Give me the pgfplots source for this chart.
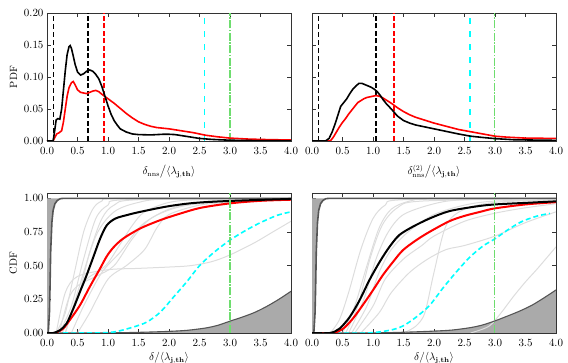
\documentclass[border=0pt]{standalone}
\usepackage{pgfplots}
\pgfplotsset{compat=1.18}
\usepackage{amsmath}
\definecolor{lgreen}{HTML}{6EDD6E}
\definecolor{cyn}{rgb}{0,1,1}
\definecolor{rd}{rgb}{1,0,0}
\definecolor{bndgray}{HTML}{555555}
\definecolor{fillgray}{HTML}{AAAAAA}
\definecolor{glight}{HTML}{DDDDDD}
\newcommand\fs{\fontsize{10.5}{12}\selectfont}

\pgfplotsset{
  panel/.style={
    scale only axis, width=244pt,
    xmin=0, xmax=4, xtick={0,0.5,...,4},
    tick align=inside, major tick length=4pt,
    axis line style={line width=0.9pt, black!80},
    tick style={black!80, line width=0.6pt},
    tick label style={font=\fs},
    label style={font=\fs},
    xticklabel shift=3pt,
    xticklabel style={/pgf/number format/.cd, fixed, fixed zerofill, precision=1},
    yticklabel style={/pgf/number format/.cd, fixed, fixed zerofill, precision=2},
  },
  pdf/.style={panel, height=128pt, ymin=0, ymax=0.2, ytick={0,0.05,...,0.2},
    every axis x label/.append style={yshift=-4pt}},
  cdf/.style={panel, height=140pt, ymin=0, ymax=1.04, ytick={0,0.25,0.5,0.75,1},
    every axis x label/.append style={yshift=1pt}},
  vthin/.style={black, line width=0.7pt, dash pattern=on 5pt off 3pt},
  vdash/.style={line width=1.8pt, dash pattern=on 5pt off 2.5pt},
  vcyan/.style={cyn, line width=1.4pt, dash pattern=on 6pt off 7pt},
  vgreen/.style={lgreen, line width=1.8pt, dash pattern=on 8pt off 1.5pt on 1.5pt off 1.5pt},
  gl/.style={glight, line width=1.0pt, smooth, tension=0.5},
}

\begin{document}
\begin{tikzpicture}
\path[use as bounding box] (0,0) rectangle (568pt,363pt);

% ---------------- top left: PDF of delta_nns
\begin{axis}[pdf, at={(47pt,222pt)}, anchor=south west,
  ylabel={PDF},
  xlabel={$\delta_{\mathrm{nns}}\big/\langle\lambda_{\mathbf{j,th}}\rangle$}]
\addplot[vthin] coordinates {(0.1,0) (0.1,0.2)};
\addplot[vdash, black] coordinates {(0.67,0) (0.67,0.2)};
\addplot[vdash, rd] coordinates {(0.94,0) (0.94,0.2)};
\addplot[vcyan] coordinates {(2.58,0) (2.58,0.2)};
\addplot[vgreen] coordinates {(3.0,0) (3.0,0.2)};
\addplot[rd, line width=1.6pt] coordinates {
(0.00,0) (0.10,0) (0.13,0.006) (0.16,0.011) (0.20,0.013) (0.24,0.016) (0.27,0.030)
(0.30,0.050) (0.33,0.070) (0.36,0.083) (0.40,0.091) (0.43,0.093) (0.46,0.088)
(0.50,0.080) (0.55,0.076) (0.60,0.075) (0.65,0.074) (0.70,0.076) (0.75,0.078)
(0.80,0.079) (0.85,0.077) (0.90,0.073) (1.00,0.066) (1.10,0.059) (1.20,0.051)
(1.30,0.043) (1.40,0.036) (1.50,0.030) (1.60,0.026) (1.70,0.023) (1.80,0.021)
(2.00,0.019) (2.20,0.016) (2.40,0.013) (2.60,0.009) (2.80,0.0065) (3.00,0.0045)
(3.30,0.003) (3.60,0.0022) (4.00,0.0015)};
\addplot[black, line width=1.6pt] coordinates {
(0.00,0) (0.10,0) (0.12,0.012) (0.15,0.033) (0.18,0.035) (0.21,0.034) (0.24,0.050)
(0.27,0.080) (0.30,0.110) (0.33,0.135) (0.36,0.147) (0.38,0.149) (0.40,0.145)
(0.43,0.133) (0.46,0.120) (0.50,0.108) (0.55,0.103) (0.60,0.105) (0.65,0.109)
(0.70,0.111) (0.75,0.109) (0.80,0.104) (0.85,0.097) (0.90,0.085) (0.95,0.070)
(1.00,0.055) (1.05,0.042) (1.10,0.032) (1.15,0.025) (1.20,0.019) (1.30,0.014)
(1.40,0.011) (1.50,0.010) (1.70,0.0095) (1.90,0.0105) (2.00,0.0105) (2.10,0.010)
(2.20,0.0085) (2.30,0.007) (2.40,0.0055) (2.50,0.004) (2.70,0.0025) (3.00,0.0012)
(3.50,0.0005) (4.00,0.0002)};
\end{axis}

% ---------------- top right: PDF of delta_nns^(2)
\begin{axis}[pdf, at={(312pt,222pt)}, anchor=south west,
  yticklabels={},
  xlabel={$\delta^{(2)}_{\mathrm{nns}}\big/\langle\lambda_{\mathbf{j,th}}\rangle$}]
\addplot[vthin] coordinates {(0.1,0) (0.1,0.2)};
\addplot[vdash, black] coordinates {(1.05,0) (1.05,0.2)};
\addplot[vdash, rd] coordinates {(1.34,0) (1.34,0.2)};
\addplot[vcyan] coordinates {(2.59,0) (2.59,0.2)};
\addplot[vgreen, line width=1.0pt] coordinates {(3.0,0) (3.0,0.2)};
\addplot[rd, line width=1.6pt] coordinates {
(0.00,0) (0.30,0) (0.35,0.006) (0.40,0.014) (0.45,0.022) (0.50,0.029) (0.55,0.035)
(0.60,0.042) (0.65,0.048) (0.70,0.054) (0.75,0.060) (0.80,0.063) (0.85,0.066)
(0.90,0.068) (0.95,0.069) (1.00,0.070) (1.05,0.071) (1.10,0.070) (1.15,0.068)
(1.20,0.065) (1.30,0.059) (1.40,0.052) (1.50,0.046) (1.60,0.041) (1.70,0.037)
(1.80,0.034) (1.90,0.031) (2.00,0.028) (2.20,0.023) (2.40,0.018) (2.60,0.0145)
(2.80,0.011) (3.00,0.0075) (3.20,0.006) (3.50,0.0045) (4.00,0.004)};
\addplot[black, line width=1.6pt] coordinates {
(0.00,0) (0.22,0) (0.28,0.004) (0.33,0.014) (0.38,0.027) (0.43,0.042) (0.47,0.054)
(0.52,0.060) (0.57,0.066) (0.62,0.074) (0.67,0.081) (0.72,0.086) (0.77,0.090)
(0.82,0.090) (0.87,0.088) (0.92,0.086) (0.97,0.084) (1.02,0.081) (1.07,0.077)
(1.12,0.071) (1.17,0.064) (1.22,0.058) (1.30,0.050) (1.40,0.039) (1.50,0.032)
(1.60,0.028) (1.70,0.025) (1.80,0.023) (1.90,0.021) (2.00,0.019) (2.20,0.015)
(2.40,0.011) (2.60,0.0075) (2.80,0.0055) (3.00,0.0037) (3.30,0.002) (3.60,0.0015)
(4.00,0.001)};
\end{axis}

% ---------------- bottom left: CDF
\begin{axis}[cdf, at={(47pt,30pt)}, anchor=south west,
  ylabel={CDF},
  xlabel={$\delta/\langle\lambda_{\mathbf{j,th}}\rangle$}]
\addplot[fill=fillgray, draw=none] coordinates {
(0,0) (0.02,0) (0.04,0.15) (0.05,0.35) (0.06,0.6) (0.08,0.82) (0.10,0.91)
(0.13,0.96) (0.17,0.985) (0.22,0.998) (0.27,1) (0,1)};
\addplot[fill=fillgray, draw=none] coordinates {
(0.8,0) (1.2,0.002) (1.6,0.006) (2.0,0.012) (2.3,0.02) (2.6,0.037) (2.8,0.057)
(3.0,0.088) (3.2,0.118) (3.4,0.152) (3.6,0.197) (3.8,0.25) (4.0,0.31) (4.0,0)};
\addplot[gl] coordinates {(0.15,0) (0.3,0.15) (0.45,0.45) (0.6,0.75) (0.75,0.92) (0.9,0.98) (1.2,1.0) (4,1)};
\addplot[gl] coordinates {(0.2,0) (0.4,0.2) (0.6,0.55) (0.8,0.85) (1.0,0.95) (1.3,0.99) (4,1)};
\addplot[gl] coordinates {(0.25,0) (0.5,0.25) (0.7,0.6) (0.9,0.85) (1.1,0.95) (1.5,0.99) (4,1)};
\addplot[gl] coordinates {(0.3,0) (0.5,0.3) (0.8,0.72) (1.1,0.9) (1.5,0.97) (2,0.995) (4,1)};
\addplot[gl] coordinates {(0.15,0) (0.3,0.3) (0.5,0.42) (1.0,0.47) (1.5,0.48) (2.0,0.49) (2.35,0.50) (2.7,0.53) (3.0,0.58) (3.4,0.67) (3.7,0.75) (4.0,0.83)};
\addplot[gl] coordinates {(0.3,0) (0.5,0.28) (0.65,0.4) (0.85,0.46) (1.0,0.52) (1.2,0.66) (1.4,0.8) (1.6,0.9) (2.0,0.97) (2.5,0.99) (4,1)};
\addplot[gl] coordinates {(0.4,0) (0.6,0.2) (0.9,0.45) (1.2,0.6) (1.4,0.72) (1.6,0.82) (2.0,0.92) (2.5,0.97) (3,0.99) (4,1)};
\addplot[gl] coordinates {(0.5,0) (0.7,0.15) (1.0,0.4) (1.3,0.5) (1.6,0.62) (1.8,0.78) (2.0,0.88) (2.5,0.95) (3.0,0.97) (4,0.99)};
\addplot[gl] coordinates {(0.2,0) (0.35,0.25) (0.5,0.35) (0.8,0.42) (1.1,0.5) (1.4,0.7) (1.7,0.85) (2.2,0.94) (3,0.98) (4,1)};
\addplot[bndgray, line width=1.6pt] coordinates {
(0.02,0) (0.04,0.15) (0.05,0.35) (0.06,0.6) (0.08,0.82) (0.10,0.91)
(0.13,0.96) (0.17,0.985) (0.22,0.998) (0.27,1) (4,1)};
\addplot[bndgray, line width=1.1pt, smooth] coordinates {
(0,0) (0.8,0) (1.2,0.002) (1.6,0.006) (2.0,0.012) (2.3,0.02) (2.6,0.037) (2.8,0.057)
(3.0,0.088) (3.2,0.118) (3.4,0.152) (3.6,0.197) (3.8,0.25) (4.0,0.31)};
\addplot[cyn, line width=1.6pt, dash pattern=on 5pt off 3pt, smooth] coordinates {
(0,0) (0.7,0) (1.09,0.007) (1.42,0.045) (1.64,0.082) (1.86,0.156) (2.08,0.27)
(2.3,0.385) (2.5,0.50) (2.74,0.60) (3.0,0.69) (3.25,0.76) (3.5,0.82) (3.78,0.875) (4.0,0.9)};
\addplot[rd, line width=2pt, smooth] coordinates {
(0,0) (0.13,0) (0.26,0.03) (0.37,0.094) (0.54,0.206) (0.70,0.342) (0.87,0.479)
(0.98,0.570) (1.09,0.636) (1.25,0.702) (1.53,0.777) (1.86,0.839) (2.19,0.888)
(2.52,0.93) (3.0,0.963) (3.5,0.982) (4.0,0.99)};
\addplot[black, line width=2pt, smooth] coordinates {
(0,0) (0.1,0) (0.21,0.02) (0.32,0.07) (0.43,0.18) (0.54,0.305) (0.65,0.43)
(0.76,0.565) (0.87,0.70) (0.98,0.80) (1.12,0.85) (1.31,0.876) (1.53,0.90)
(1.97,0.94) (2.41,0.966) (3.0,0.981) (4.0,0.996)};
\addplot[vgreen] coordinates {(3.0,0) (3.0,1.04)};
\end{axis}

% ---------------- bottom right: CDF
\begin{axis}[cdf, at={(312pt,30pt)}, anchor=south west,
  yticklabels={},
  xlabel={$\delta/\langle\lambda_{\mathbf{j,th}}\rangle$}]
\addplot[fill=fillgray, draw=none] coordinates {
(0,0) (0.03,0) (0.05,0.15) (0.06,0.35) (0.07,0.6) (0.09,0.82) (0.11,0.91)
(0.14,0.96) (0.18,0.985) (0.23,0.998) (0.28,1) (0,1)};
\addplot[fill=fillgray, draw=none] coordinates {
(0.8,0) (1.2,0.002) (1.6,0.007) (2.0,0.014) (2.3,0.022) (2.6,0.04) (2.8,0.06)
(3.0,0.09) (3.2,0.125) (3.4,0.162) (3.6,0.205) (3.8,0.26) (4.0,0.32) (4.0,0)};
\addplot[gl] coordinates {(0.3,0) (0.45,0.1) (0.6,0.3) (0.8,0.62) (1.0,0.85) (1.2,0.95) (1.5,0.99) (4,1)};
\addplot[gl] coordinates {(0.5,0) (0.7,0.2) (0.9,0.5) (1.1,0.78) (1.3,0.92) (1.6,0.98) (2,1) (4,1)};
\addplot[gl] coordinates {(0.55,0) (0.75,0.2) (0.95,0.55) (1.15,0.8) (1.4,0.93) (1.8,0.98) (4,1)};
\addplot[gl] coordinates {(0.6,0) (0.85,0.25) (1.05,0.55) (1.25,0.75) (1.5,0.88) (2.0,0.96) (2.5,0.99) (4,1)};
\addplot[gl] coordinates {(0.65,0) (0.9,0.2) (1.1,0.45) (1.3,0.62) (1.6,0.76) (2.0,0.88) (2.5,0.95) (3,0.98) (4,0.99)};
\addplot[gl] coordinates {(0.7,0) (1.0,0.2) (1.2,0.4) (1.5,0.55) (1.8,0.65) (2.0,0.72) (2.5,0.83) (3,0.89) (3.5,0.93) (4,0.96)};
\addplot[gl] coordinates {(0.8,0) (1.1,0.15) (1.3,0.3) (1.6,0.45) (1.9,0.55) (2.2,0.62) (2.5,0.65) (3,0.72) (3.5,0.82) (4,0.9)};
\addplot[gl] coordinates {(1.5,0) (1.7,0.05) (1.85,0.15) (2.0,0.45) (2.2,0.8) (2.5,0.92) (3,0.97) (4,0.99)};
\addplot[gl] coordinates {(2.6,0) (2.9,0.05) (3.1,0.15) (3.3,0.27) (3.5,0.38) (3.7,0.48) (4.0,0.64)};
\addplot[bndgray, line width=1.6pt] coordinates {
(0.03,0) (0.05,0.15) (0.06,0.35) (0.07,0.6) (0.09,0.82) (0.11,0.91)
(0.14,0.96) (0.18,0.985) (0.23,0.998) (0.28,1) (4,1)};
\addplot[bndgray, line width=1.1pt, smooth] coordinates {
(0,0) (0.8,0) (1.2,0.002) (1.6,0.007) (2.0,0.014) (2.3,0.022) (2.6,0.04) (2.8,0.06)
(3.0,0.09) (3.2,0.125) (3.4,0.162) (3.6,0.205) (3.8,0.26) (4.0,0.32)};
\addplot[cyn, line width=1.6pt, dash pattern=on 5pt off 3pt, smooth] coordinates {
(0,0) (0.89,0) (1.27,0.02) (1.49,0.052) (1.71,0.119) (1.93,0.206) (2.14,0.33)
(2.36,0.45) (2.58,0.56) (2.8,0.645) (3.0,0.70) (3.24,0.775) (3.45,0.83) (3.7,0.87) (3.9,0.888)};
\addplot[rd, line width=2pt, smooth] coordinates {
(0,0) (0.34,0) (0.51,0.032) (0.67,0.107) (0.83,0.206) (1.0,0.318) (1.16,0.429)
(1.33,0.529) (1.49,0.615) (1.71,0.69) (1.93,0.752) (2.25,0.83) (2.5,0.87)
(2.8,0.905) (3.0,0.926) (3.5,0.955) (4.0,0.972)};
\addplot[black, line width=2pt, smooth] coordinates {
(0,0) (0.29,0) (0.45,0.032) (0.62,0.12) (0.78,0.243) (0.94,0.392) (1.11,0.529)
(1.27,0.64) (1.43,0.727) (1.65,0.789) (1.93,0.851) (2.25,0.905) (2.69,0.94)
(3.0,0.955) (3.56,0.968) (4.0,0.978)};
\addplot[vgreen, line width=1.0pt] coordinates {(3.0,0) (3.0,1.04)};
\end{axis}
\end{tikzpicture}
\end{document}
